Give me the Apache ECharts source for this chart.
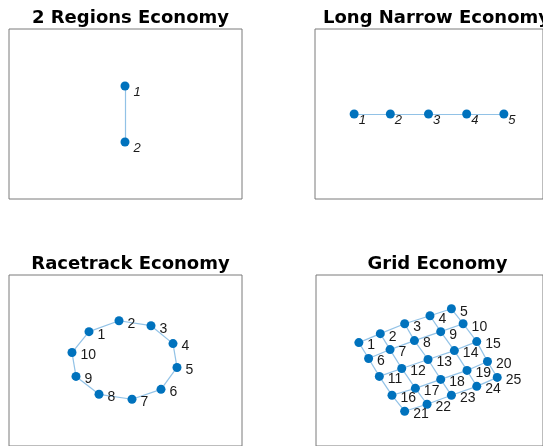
<!DOCTYPE html>
<html>
<head>
<meta charset="utf-8">
<script src="https://cdn.jsdelivr.net/npm/echarts@6/dist/echarts.min.js"></script>
<style>
  html, body { margin: 0; padding: 0; background: #fff; }
  #chart { width: 543px; height: 446px; }
</style>
</head>
<body>
<div id="chart"></div>
<script>
// node layouts (x to the right, y upward)
const titles = ['2 Regions Economy', 'Long Narrow Economy', 'Racetrack Economy', 'Grid Economy']

const regionsX = [11.6, 11.6]
const regionsY = [11.3, 5.7]
const regionsLinks = [[1, 2]]

const narrowX = [4.0, 7.7, 11.6, 15.5, 19.3]
const narrowY = [8.5, 8.5, 8.5, 8.5, 8.5]
const narrowLinks = [[1, 2], [2, 3], [3, 4], [4, 5]]

const trackX = [8.0, 11.0, 14.2, 16.4, 16.8, 15.2, 12.3, 9.0, 6.7, 6.3]
const trackY = [11.5, 12.6, 12.1, 10.3, 7.9, 5.7, 4.7, 5.2, 7.0, 9.4]
const trackLinks = [[1, 2], [2, 3], [3, 4], [4, 5], [5, 6], [6, 7], [7, 8], [8, 9], [9, 10], [10, 1]]

const gridX = [4.4, 6.6, 9.1, 11.7, 13.9,
               5.4, 7.6, 10.1, 12.8, 15.1,
               6.5, 8.8, 11.5, 14.2, 16.5,
               7.8, 10.2, 12.8, 15.5, 17.6,
               9.1, 11.4, 13.9, 16.5, 18.6]
const gridY = [10.4, 11.3, 12.3, 13.1, 13.8,
               8.8, 9.7, 10.6, 11.5, 12.3,
               7.0, 7.8, 8.7, 9.6, 10.5,
               5.1, 5.8, 6.7, 7.6, 8.5,
               3.5, 4.2, 5.1, 6.0, 6.9]
const gridLinks = [
  [1, 2], [2, 3], [3, 4], [4, 5], [6, 7], [7, 8], [8, 9], [9, 10],
  [11, 12], [12, 13], [13, 14], [14, 15], [16, 17], [17, 18], [18, 19], [19, 20],
  [21, 22], [22, 23], [23, 24], [24, 25],
  [1, 6], [6, 11], [11, 16], [16, 21], [2, 7], [7, 12], [12, 17], [17, 22],
  [3, 8], [8, 13], [13, 18], [18, 23], [4, 9], [9, 14], [14, 19], [19, 24],
  [5, 10], [10, 15], [15, 20], [20, 25]
]

const boxes = [
  { left: 9, top: 29, ymax: 17 },
  { left: 315, top: 29, ymax: 17 },
  { left: 9, top: 275, ymax: 17.2 },
  { left: 316, top: 275, ymax: 17.2 }
]

const panels = [
  { xs: regionsX, ys: regionsY, links: regionsLinks, italic: true, size: 13, dist: 4, off: [0, 6] },
  { xs: narrowX, ys: narrowY, links: narrowLinks, italic: true, size: 13, dist: 0, off: [0, 6] },
  { xs: trackX, ys: trackY, links: trackLinks, italic: false, size: 14, dist: 4, off: [0, 3] },
  { xs: gridX, ys: gridY, links: gridLinks, italic: false, size: 14, dist: 4, off: [0, 3] }
]

const chart = echarts.init(document.getElementById('chart'))

const option = {
  animation: false,
  title: titles.map((t, i) => ({
    text: t,
    left: boxes[i].left + 116.5,
    top: i < 2 ? 4 : 250,
    textAlign: 'center',
    textStyle: { fontFamily: 'DejaVu Sans', fontWeight: 'bold', fontSize: 18, color: '#000' }
  })),
  grid: boxes.map(b => ({
    left: b.left, top: b.top, width: 233, height: b.ymax * 10,
    show: true, borderColor: '#7a7a7a', borderWidth: 1, backgroundColor: '#fff'
  })),
  xAxis: boxes.map((b, i) => ({ gridIndex: i, type: 'value', min: 0, max: 23.3, show: false })),
  yAxis: boxes.map((b, i) => ({ gridIndex: i, type: 'value', min: 0, max: b.ymax, show: false })),
  series: panels.map((p, i) => ({
    type: 'graph',
    coordinateSystem: 'cartesian2d',
    xAxisIndex: i,
    yAxisIndex: i,
    symbolSize: 9,
    itemStyle: { color: '#0072BD' },
    lineStyle: { color: '#4a9ad6', opacity: 0.6, width: 1.2, curveness: 0 },
    label: {
      show: true,
      position: 'right',
      distance: p.dist,
      offset: p.off,
      formatter: '{b}',
      color: '#1a1a1a',
      fontFamily: 'Liberation Sans',
      fontStyle: p.italic ? 'italic' : 'normal',
      fontSize: p.size
    },
    emphasis: { disabled: true },
    data: p.xs.map((x, k) => ({ name: String(k + 1), value: [x, p.ys[k]] })),
    links: p.links.map(l => ({ source: String(l[0]), target: String(l[1]) }))
  }))
}

chart.setOption(option)
</script>
</body>
</html>
